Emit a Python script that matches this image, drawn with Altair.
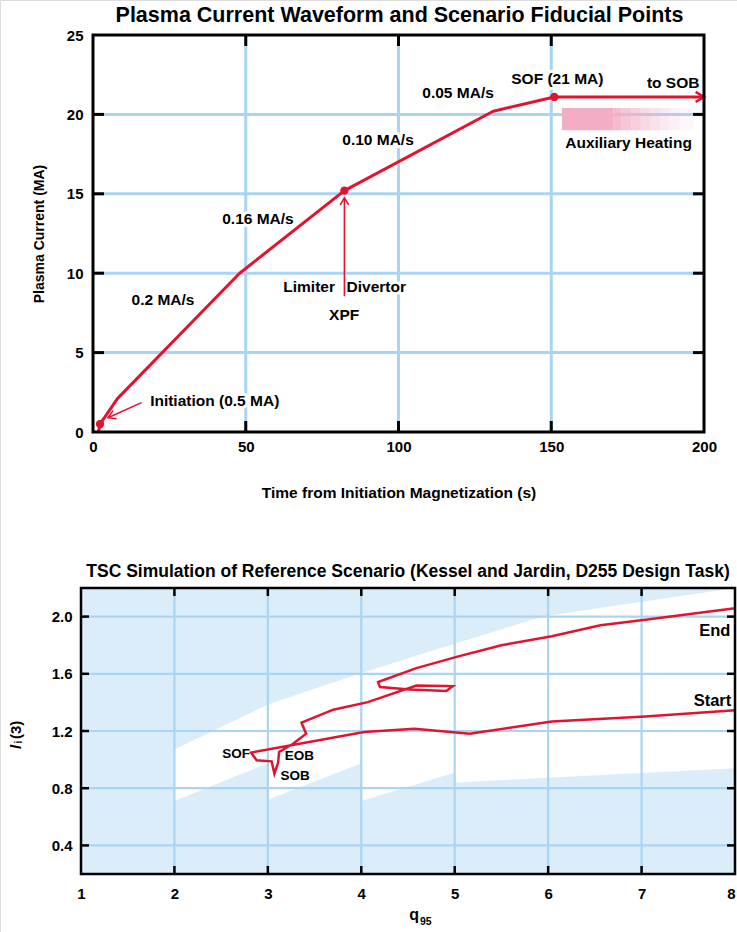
import altair as alt
import pandas as pd

FONT = "Liberation Sans, Arial, sans-serif"
RED = "#e2132f"
GRIDC = "#a9d5f3"
LIGHT = "#dcedfa"
PINK = "#f3aec6"
CW, CH = 737, 932

# ---------------- top chart values ----------------
wave_t = [1.8, 2.3, 8.0, 48.0, 82.3, 131.0, 151.0, 200.0]
wave_ip = [0.0, 0.5, 2.1, 10.0, 15.2, 20.2, 21.1, 21.1]
fid_t = [2.3, 82.3, 151.0]
fid_ip = [0.5, 15.2, 21.1]
top_xticks = [0, 50, 100, 150, 200]
top_yticks = [0, 5, 10, 15, 20, 25]
top_grid_t = [50, 100, 150]
top_grid_ip = [5, 10, 15, 20]

center_labels = ["0.2 MA/s", "0.16 MA/s", "0.10 MA/s", "0.05 MA/s", "SOF (21 MA)", "Auxiliary Heating", "XPF"]
center_t = [22.9, 54.0, 93.3, 119.5, 152.0, 175.3, 82.2]
center_ip = [8.3, 13.4, 18.4, 21.33, 22.23, 18.22, 7.37]
left_labels = ["Initiation (0.5 MA)", "Divertor"]
left_t = [18.7, 83.0]
left_ip = [1.95, 9.15]
right_labels = ["Limiter", "to SOB"]
right_t = [79.2, 198.5]
right_ip = [9.15, 21.96]

init_arrow_t = [15.9, 4.9]
init_arrow_ip = [1.85, 0.9]
xpf_arrow_t = [82.3, 82.3]
xpf_arrow_ip = [8.55, 14.75]
sob_arrow_t = [200.0]
sob_arrow_ip = [21.1]

heat_t0 = [153.5, 170.3, 173.0, 176.2, 179.3, 182.4, 185.6, 188.6, 191.9]
heat_t1 = [170.3, 173.0, 176.2, 179.3, 182.4, 185.6, 188.6, 191.9, 196.6]
heat_level = [1.0, 0.85, 0.72, 0.6, 0.48, 0.37, 0.27, 0.18, 0.1]
heat_ip0 = [19.0] * 9
heat_ip1 = [20.4] * 9

# ---------------- bottom chart values ----------------
q_path = [8.0, 7.04, 6.04, 5.16, 4.57, 4.03, 2.82, 2.88, 3.04, 3.07, 3.11, 3.12,
          3.27, 3.41, 3.36, 3.70, 4.07, 4.59, 4.98, 4.91, 4.52, 4.20, 4.18,
          4.59, 5.03, 5.50, 6.04, 6.56, 7.04, 8.0]
li_path = [1.345, 1.302, 1.267, 1.181, 1.216, 1.193, 1.049, 0.995, 0.988, 0.902, 0.979, 1.053,
           1.111, 1.181, 1.258, 1.349, 1.402, 1.518, 1.514, 1.479, 1.49, 1.507, 1.542,
           1.64, 1.72, 1.80, 1.863, 1.94, 1.978, 2.058]
band_q = [2, 3, 3, 4, 4, 5, 5, 5.94, 8]
band_seg = [1, 1, 2, 2, 3, 3, 4, 4, 4]
band_top = [1.07, 1.385, 1.385, 1.605, 1.605, 1.81, 1.81, 2.0, 2.2]
band_bottom = [0.71, 0.975, 0.72, 0.975, 0.71, 0.91, 0.84, 0.871, 0.94]
bot_xticks = [1, 2, 3, 4, 5, 6, 7, 8]
bot_yticks = [0.4, 0.8, 1.2, 1.6, 2.0]
bot_grid_q = [2, 3, 4, 5, 6, 7]
bot_grid_li = [0.4, 0.8, 1.2, 1.6, 2.0]
bot_end_labels = ["End", "Start"]
bot_end_q = [7.95, 7.96]
bot_end_li = [1.90, 1.407]
bot_sof_labels = ["SOF"]
bot_sof_q = [2.81]
bot_sof_li = [1.042]
bot_left_labels = ["EOB", "SOB"]
bot_left_q = [3.18, 3.135]
bot_left_li = [1.023, 0.886]

TOP_TITLE = "Plasma Current Waveform and Scenario Fiducial Points"
BOT_TITLE = "TSC Simulation of Reference Scenario (Kessel and Jardin, D255 Design Task)"

# panel frames (pixels on the page)
L1, R1, T1, B1 = 93, 704, 35, 432
L2, R2, T2, B2 = 81, 735, 588, 874

ONE = pd.DataFrame({"a": [0]})


def text_layer(labels, xs, ys, align, size, X, Y, halo=False):
    df = pd.DataFrame({"x": xs, "y": ys, "label": labels})
    base = alt.Chart(df).encode(x=X, y=Y, text="label:N")
    if halo:
        return base.mark_text(align=align, baseline="middle", font=FONT, fontSize=size,
                              fontWeight="bold", color="white", stroke="white",
                              strokeWidth=6, strokeJoin="round")
    return base.mark_text(align=align, baseline="middle", font=FONT, fontSize=size,
                          fontWeight="bold", color="black")


def lab(**kw):
    return dict(labelFont=FONT, labelFontSize=15, labelFontWeight="bold", labelColor="black",
                labelFlush=False, grid=False, ticks=False, domain=False, **kw)


# ================= TOP PANEL =================
xs1 = alt.Scale(domain=[0, 200], range=[L1, R1], nice=False, zero=False)
ys1 = alt.Scale(domain=[0, 25], range=[B1, T1], nice=False, zero=False)
xax1 = alt.Axis(values=top_xticks, format="d", orient="bottom", offset=-(CH - B1),
                labelPadding=7,
                title="Time from Initiation Magnetization (s)", titleFont=FONT, titleFontSize=15.5,
                titleFontWeight="bold", titleColor="black", titlePadding=31, **lab())
yax1 = alt.Axis(values=top_yticks, format="d", orient="left", offset=-L1,
                labelPadding=10,
                title="Plasma Current (MA)", titleFont=FONT, titleFontSize=14,
                titleFontWeight="bold", titleColor="black", titlePadding=20, **lab())
X1 = alt.X("x:Q", scale=xs1, axis=xax1)
Y1 = alt.Y("y:Q", scale=ys1, axis=yax1)

tl = []
tl.append(alt.Chart(pd.DataFrame({"x": top_grid_t})).mark_rule(color=GRIDC, strokeWidth=3)
          .encode(x=X1, y=alt.value(T1), y2=alt.value(B1)))
tl.append(alt.Chart(pd.DataFrame({"y": top_grid_ip})).mark_rule(color=GRIDC, strokeWidth=3)
          .encode(y=Y1, x=alt.value(L1), x2=alt.value(R1)))
tk = 11
tl.append(alt.Chart(pd.DataFrame({"x": top_grid_t})).mark_rule(color="black", strokeWidth=3)
          .encode(x=X1, y=alt.value(T1), y2=alt.value(T1 + tk)))
tl.append(alt.Chart(pd.DataFrame({"x": top_grid_t})).mark_rule(color="black", strokeWidth=3)
          .encode(x=X1, y=alt.value(B1 - tk), y2=alt.value(B1)))
tl.append(alt.Chart(pd.DataFrame({"y": top_grid_ip})).mark_rule(color="black", strokeWidth=3)
          .encode(y=Y1, x=alt.value(L1), x2=alt.value(L1 + tk)))
tl.append(alt.Chart(pd.DataFrame({"y": top_grid_ip})).mark_rule(color="black", strokeWidth=3)
          .encode(y=Y1, x=alt.value(R1 - tk), x2=alt.value(R1)))

groups = [(center_labels, center_t, center_ip, "center"),
          (left_labels, left_t, left_ip, "left"),
          (right_labels, right_t, right_ip, "right")]
for labels, xs, ys, al in groups:
    tl.append(text_layer(labels, xs, ys, al, 15.5, X1, Y1, halo=True))

heat_df = pd.DataFrame({"x": heat_t0, "x2": heat_t1, "y": heat_ip0, "y2": heat_ip1, "level": heat_level})
tl.append(alt.Chart(heat_df).mark_rect(color=PINK, strokeWidth=0).encode(
    x=X1, x2="x2:Q", y=Y1, y2="y2:Q", opacity=alt.Opacity("level:Q", scale=None, legend=None)))

tl.append(alt.Chart(pd.DataFrame({"x": wave_t, "y": wave_ip})).mark_line(
    color=RED, strokeWidth=3, strokeJoin="round").encode(x=X1, y=Y1))
tl.append(alt.Chart(pd.DataFrame({"x": [init_arrow_t[0]], "y": [init_arrow_ip[0]],
                                  "x2": [init_arrow_t[1]], "y2": [init_arrow_ip[1]]}))
          .mark_rule(color=RED, strokeWidth=1.6).encode(x=X1, y=Y1, x2="x2:Q", y2="y2:Q"))
tl.append(alt.Chart(pd.DataFrame({"x": [xpf_arrow_t[0]], "y": [xpf_arrow_ip[0]],
                                  "y2": [xpf_arrow_ip[1]]}))
          .mark_rule(color=RED, strokeWidth=1.6).encode(x=X1, y=Y1, y2="y2:Q"))
ARROW = "M-1,-0.6L0,0L-1,0.6"
tl.append(alt.Chart(pd.DataFrame({"x": sob_arrow_t, "y": sob_arrow_ip})).mark_point(
    shape=ARROW, filled=False, size=280, angle=0, color=RED, strokeWidth=2.5, opacity=1).encode(x=X1, y=Y1))
tl.append(alt.Chart(pd.DataFrame({"x": [init_arrow_t[1]], "y": [init_arrow_ip[1]]})).mark_point(
    shape=ARROW, filled=False, size=220, angle=156, color=RED, strokeWidth=1.6, opacity=1).encode(x=X1, y=Y1))
tl.append(alt.Chart(pd.DataFrame({"x": [xpf_arrow_t[1]], "y": [xpf_arrow_ip[1]]})).mark_point(
    shape=ARROW, filled=False, size=200, angle=270, color=RED, strokeWidth=1.6, opacity=1).encode(x=X1, y=Y1))
tl.append(alt.Chart(pd.DataFrame({"x": fid_t, "y": fid_ip})).mark_circle(
    size=70, color=RED, opacity=1).encode(x=X1, y=Y1))
for labels, xs, ys, al in groups:
    tl.append(text_layer(labels, xs, ys, al, 15.5, X1, Y1))
tl.append(alt.Chart(ONE).mark_rect(fillOpacity=0, stroke="black", strokeWidth=3).encode(
    x=alt.value(L1), x2=alt.value(R1), y=alt.value(T1), y2=alt.value(B1)))
tl.append(alt.Chart(ONE).mark_text(text=TOP_TITLE, align="center", baseline="middle", font=FONT,
                                   fontSize=21.5, fontWeight="bold", color="black")
          .encode(x=alt.value((L1 + R1) / 2 + 1), y=alt.value(16)))

top = alt.layer(*tl)

# ================= BOTTOM PANEL =================
xs2 = alt.Scale(domain=[1, 8], range=[L2, R2], nice=False, zero=False)
ys2 = alt.Scale(domain=[0.2, 2.2], range=[B2, T2], nice=False, zero=False)
xax2 = alt.Axis(values=bot_xticks, format="d", orient="bottom", offset=-(CH - B2),
                labelPadding=12, title="",
                labelAlign=alt.expr("datum.value == 8 ? 'right' : 'center'"), **lab())
yax2 = alt.Axis(values=bot_yticks, format=".1f", orient="left", offset=-L2,
                labelPadding=9, title="", **lab())
X2 = alt.X("x:Q", scale=xs2, axis=xax2)
Y2 = alt.Y("y:Q", scale=ys2, axis=yax2)

bl = []
bl.append(alt.Chart(ONE).mark_rect(color=LIGHT, strokeWidth=0).encode(
    x=alt.value(L2), x2=alt.value(R2), y=alt.value(T2), y2=alt.value(B2)))
bl.append(alt.Chart(pd.DataFrame({"x": band_q, "y": band_top, "y2": band_bottom, "seg": band_seg}))
          .mark_area(color="white", opacity=1).encode(x=X2, y=Y2, y2="y2:Q", detail="seg:N"))
bl.append(alt.Chart(pd.DataFrame({"x": bot_grid_q})).mark_rule(color=GRIDC, strokeWidth=2.2)
          .encode(x=X2, y=alt.value(T2), y2=alt.value(B2)))
bl.append(alt.Chart(pd.DataFrame({"y": bot_grid_li})).mark_rule(color=GRIDC, strokeWidth=2.2)
          .encode(y=Y2, x=alt.value(L2), x2=alt.value(R2)))
tk2 = 8
bl.append(alt.Chart(pd.DataFrame({"x": bot_grid_q})).mark_rule(color="black", strokeWidth=2.5)
          .encode(x=X2, y=alt.value(T2), y2=alt.value(T2 + tk2)))
bl.append(alt.Chart(pd.DataFrame({"x": bot_grid_q})).mark_rule(color="black", strokeWidth=2.5)
          .encode(x=X2, y=alt.value(B2 - tk2), y2=alt.value(B2)))
bl.append(alt.Chart(pd.DataFrame({"y": bot_grid_li})).mark_rule(color="black", strokeWidth=2.5)
          .encode(y=Y2, x=alt.value(L2), x2=alt.value(L2 + tk2)))
bl.append(alt.Chart(pd.DataFrame({"y": bot_grid_li})).mark_rule(color="black", strokeWidth=2.5)
          .encode(y=Y2, x=alt.value(R2 - tk2), x2=alt.value(R2)))
bl.append(alt.Chart(pd.DataFrame({"x": q_path, "y": li_path, "i": list(range(len(q_path)))}))
          .mark_line(color=RED, strokeWidth=2.5, strokeJoin="miter")
          .encode(x=X2, y=Y2, order="i:Q"))
bl.append(text_layer(bot_end_labels, bot_end_q, bot_end_li, "right", 16.5, X2, Y2))
bl.append(text_layer(bot_sof_labels, bot_sof_q, bot_sof_li, "right", 13.5, X2, Y2))
bl.append(text_layer(bot_left_labels, bot_left_q, bot_left_li, "left", 13.5, X2, Y2))
# axis titles drawn as text
bl.append(alt.Chart(ONE).mark_text(text="l", angle=270, align="left", baseline="middle", font=FONT,
                                   fontSize=15, fontWeight="bold", fontStyle="italic", color="black")
          .encode(x=alt.value(15.5), y=alt.value(T2 + 161)))
bl.append(alt.Chart(ONE).mark_text(text="i", angle=270, align="left", baseline="middle", font=FONT,
                                   fontSize=10, fontWeight="bold", color="black")
          .encode(x=alt.value(19), y=alt.value(T2 + 155.5)))
bl.append(alt.Chart(ONE).mark_text(text="(3)", angle=270, align="left", baseline="middle", font=FONT,
                                   fontSize=15, fontWeight="bold", color="black")
          .encode(x=alt.value(15.5), y=alt.value(T2 + 151)))
bl.append(alt.Chart(ONE).mark_text(text="q", align="right", baseline="middle", font=FONT,
                                   fontSize=16, fontWeight="bold", color="black")
          .encode(x=alt.value(L2 + 338), y=alt.value(T2 + 327)))
bl.append(alt.Chart(ONE).mark_text(text="95", align="left", baseline="middle", font=FONT,
                                   fontSize=10.5, fontWeight="bold", color="black")
          .encode(x=alt.value(L2 + 339), y=alt.value(T2 + 334)))
bl.append(alt.Chart(ONE).mark_rect(fillOpacity=0, stroke="black", strokeWidth=2.5).encode(
    x=alt.value(L2), x2=alt.value(R2), y=alt.value(T2), y2=alt.value(B2)))
bl.append(alt.Chart(ONE).mark_text(text=BOT_TITLE, align="center", baseline="middle", font=FONT,
                                   fontSize=17.5, fontWeight="bold", color="black")
          .encode(x=alt.value((L2 + R2) / 2), y=alt.value(572)))

bottom = alt.layer(*bl)

chart = alt.layer(top, bottom).resolve_scale(x="independent", y="independent").properties(
    width=CW, height=CH, padding=0, autosize=alt.AutoSizeParams(type="none")
).configure_view(strokeWidth=0).configure(background="white")

chart.save("out.html", embed_options={"renderer": "svg", "actions": False})
